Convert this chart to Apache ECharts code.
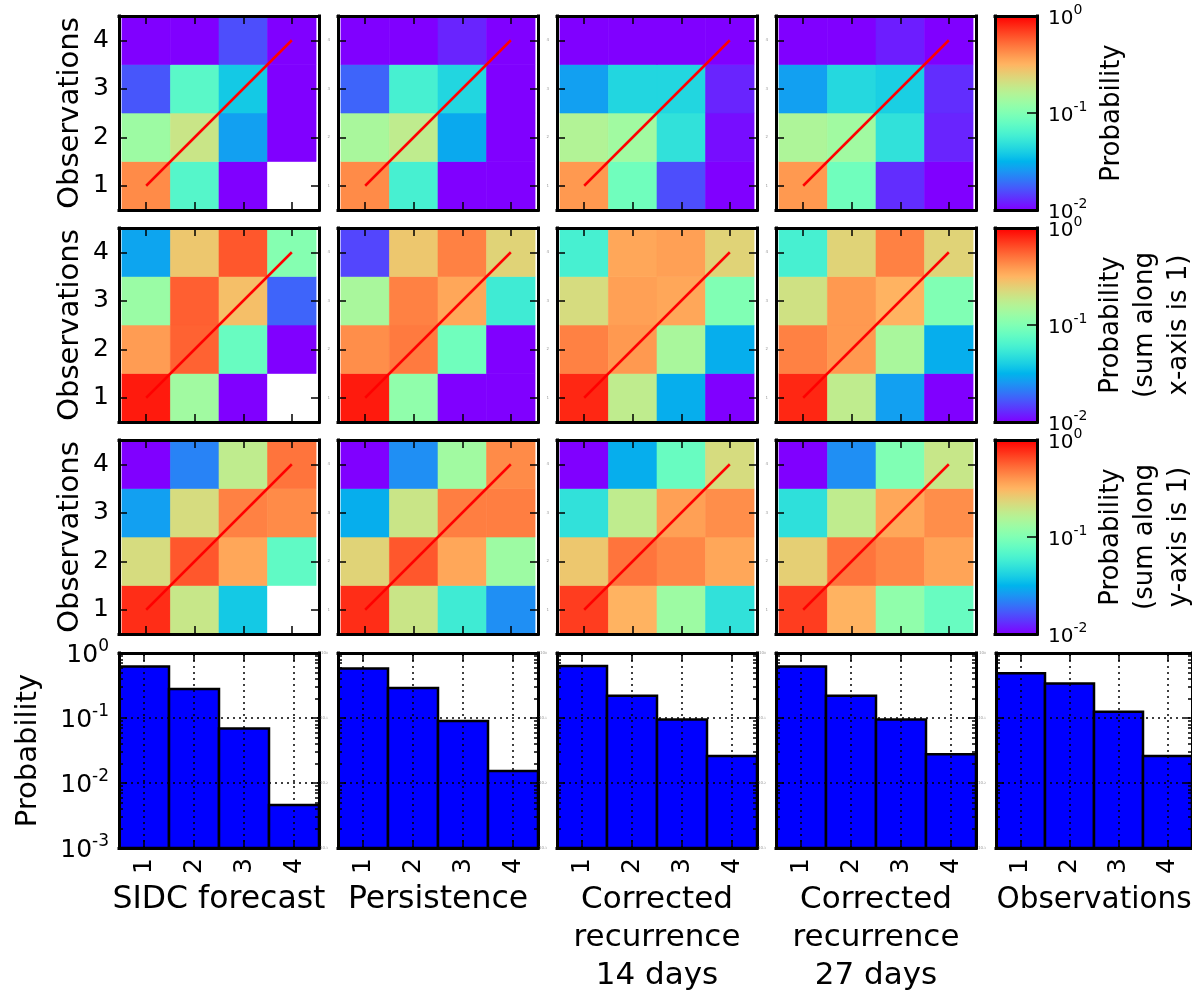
<!DOCTYPE html>
<html><head><meta charset="utf-8">
<script src="https://cdn.jsdelivr.net/npm/echarts@6/dist/echarts.min.js"></script>
<style>html,body{margin:0;padding:0;background:#fff}#c{width:1192px;height:992px}</style>
</head><body><div id="c"></div>
<script>
// ---------------- data ----------------
const forecastCategories = [1, 2, 3, 4];
const observationCategories = [1, 2, 3, 4];
const modelTitles = ['SIDC forecast', 'Persistence', 'Corrected\nrecurrence\n14 days', 'Corrected\nrecurrence\n27 days'];
const observationTitle = 'Observations';
const colorbarTicks = [0.01, 0.1, 1];
const barTicksY = [0.001, 0.01, 0.1, 1];
const colorbarLabels = ['Probability', 'Probability\n(sum along\nx-axis is 1)', 'Probability\n(sum along\ny-axis is 1)'];
const diagonal = [[1, 1], [4, 4]];

// matrices: rows = observation 1..4, columns = forecast 1..4 ; 0 = empty (white)
// row 1: joint probability
const sidcJoint = [[0.43, 0.068, 0.006, 0], [0.13, 0.195, 0.027, 0.006], [0.0166, 0.071, 0.038, 0.006], [0.006, 0.006, 0.0158, 0.006]];
const persJoint = [[0.43, 0.060, 0.005, 0.004], [0.145, 0.178, 0.029, 0.004], [0.018, 0.060, 0.043, 0.004], [0.005, 0.005, 0.0123, 0.004]];
const cr14Joint = [[0.39, 0.087, 0.0158, 0.007], [0.158, 0.135, 0.049, 0.0108], [0.027, 0.043, 0.043, 0.0123], [0.007, 0.008, 0.008, 0.008]];
const cr27Joint = [[0.39, 0.087, 0.013, 0.007], [0.152, 0.135, 0.049, 0.0123], [0.027, 0.044, 0.040, 0.013], [0.007, 0.008, 0.0118, 0.008]];
// row 2: sum along x-axis is 1
const sidcAlongX = [[0.86, 0.135, 0.006, 0], [0.38, 0.56, 0.081, 0.006], [0.127, 0.57, 0.29, 0.018], [0.028, 0.27, 0.60, 0.105]];
const persAlongX = [[0.86, 0.116, 0.006, 0.006], [0.42, 0.48, 0.087, 0.006], [0.145, 0.46, 0.35, 0.056], [0.015, 0.27, 0.46, 0.24]];
const cr14AlongX = [[0.80, 0.178, 0.030, 0.006], [0.46, 0.39, 0.145, 0.030], [0.218, 0.37, 0.35, 0.10], [0.060, 0.35, 0.37, 0.24]];
const cr27AlongX = [[0.80, 0.178, 0.027, 0.006], [0.46, 0.39, 0.145, 0.030], [0.205, 0.39, 0.32, 0.10], [0.060, 0.24, 0.46, 0.24]];
// row 3: sum along y-axis is 1
const sidcAlongY = [[0.77, 0.19, 0.038, 0], [0.218, 0.60, 0.35, 0.075], [0.027, 0.218, 0.46, 0.43], [0.006, 0.022, 0.178, 0.50]];
const persAlongY = [[0.77, 0.195, 0.056, 0.024], [0.24, 0.60, 0.35, 0.13], [0.030, 0.195, 0.47, 0.47], [0.006, 0.024, 0.135, 0.43]];
const cr14AlongY = [[0.70, 0.32, 0.13, 0.049], [0.27, 0.50, 0.44, 0.35], [0.049, 0.178, 0.37, 0.42], [0.006, 0.030, 0.081, 0.218]];
const cr27AlongY = [[0.70, 0.32, 0.116, 0.081], [0.25, 0.50, 0.44, 0.36], [0.048, 0.178, 0.35, 0.42], [0.006, 0.024, 0.10, 0.19]];
// bottom row: marginal distributions
const sidcMarginal = [0.62, 0.28, 0.069, 0.0046];
const persMarginal = [0.58, 0.29, 0.09, 0.0153];
const cr14Marginal = [0.63, 0.22, 0.095, 0.026];
const cr27Marginal = [0.62, 0.22, 0.095, 0.0276];
const obsMarginal = [0.49, 0.34, 0.125, 0.026];

// ---------------- layout ----------------
const FONT = 'DejaVu Sans';
const heatRows = [[sidcJoint, persJoint, cr14Joint, cr27Joint], [sidcAlongX, persAlongX, cr14AlongX, cr27AlongX], [sidcAlongY, persAlongY, cr14AlongY, cr27AlongY]];
const barSets = [sidcMarginal, persMarginal, cr14Marginal, cr27Marginal, obsMarginal];
const barTitles = modelTitles.concat([observationTitle]);
const titleSizes = [31.5, 31.5, 31, 31, 29.5];
const colLefts = [119, 338, 557, 776, 996];
const rowTops = [16, 228, 440];
const barTop = 653, panelW = 200, heatH = 194, barH = 195;
const cbLeft = 995, cbW = 42;
const HEAT_X = [0.44, 4.56], HEAT_Y = [0.5, 4.5], BAR_X = [0.5, 4.5];

const LOGMIN = Math.log10(colorbarTicks[0]), LOGMAX = Math.log10(colorbarTicks[colorbarTicks.length - 1]);
function rainbow(t) {
  t = Math.max(0, Math.min(1, t));
  const r = Math.min(1, Math.abs(2 * t - 0.5)), g = Math.sin(Math.PI * t), b = Math.cos(Math.PI * t / 2);
  return 'rgb(' + Math.round(r * 255) + ',' + Math.round(g * 255) + ',' + Math.round(b * 255) + ')';
}
function probColor(v) { return rainbow((Math.log10(v) - LOGMIN) / (LOGMAX - LOGMIN)); }

const grids = [], xAxis = [], yAxis = [], series = [], graphic = [];
function addGrid(left, top, width, height) { grids.push({ left, top, width, height, show: false, containLabel: false }); return grids.length - 1; }
function frame(gridIndex, position, type, min, max, extra) {
  const a = {
    gridIndex, position, type, min, max, z: 10, silent: true,
    axisLine: { show: true, onZero: false, lineStyle: { color: '#000', width: 3, cap: 'square' } },
    axisTick: { show: false }, axisLabel: { show: false }, splitLine: { show: false },
    minorTick: { show: false }, minorSplitLine: { show: false }
  };
  if (extra) for (const k in extra) a[k] = extra[k];
  return a;
}
function addX(a) { xAxis.push(a); return xAxis.length - 1; }
function addY(a) { yAxis.push(a); return yAxis.length - 1; }
const tickIn = (vals, len) => ({ show: true, inside: true, length: len, customValues: vals, lineStyle: { color: '#000', width: 1.5 } });
const tickInAuto = (len) => ({ show: true, inside: true, length: len, lineStyle: { color: '#000', width: 1.5 } });
const powFmt = v => '{b|10}{s|' + Math.round(Math.log10(v)) + '}';
function powRich(base, sup, lh) {
  return {
    b: { fontSize: base, fontFamily: FONT, color: '#000', verticalAlign: 'bottom', lineHeight: lh },
    s: { fontSize: sup, fontFamily: FONT, color: '#000', verticalAlign: 'top', lineHeight: lh }
  };
}
function tinyRich() {
  return {
    b: { fontSize: 4, fontFamily: FONT, color: '#999', lineHeight: 5 },
    s: { fontSize: 3, fontFamily: FONT, color: '#999', lineHeight: 5 }
  };
}

function heatRender(params, api) {
  const x = api.value(0), y = api.value(1), v = api.value(2);
  const p0 = api.coord([x - 0.5, y + 0.5]), p1 = api.coord([x + 0.5, y - 0.5]);
  const fill = v > 0 ? probColor(v) : '#ffffff';
  return { type: 'rect', shape: { x: p0[0], y: p0[1], width: p1[0] - p0[0], height: p1[1] - p0[1] }, style: { fill, stroke: fill, lineWidth: 0.6 } };
}
function barRender(params, api) {
  const x = api.value(0), v = api.value(1);
  const p0 = api.coord([x - 0.5, v]), p1 = api.coord([x + 0.5, barTicksY[0]]);
  return { type: 'rect', shape: { x: p0[0], y: p0[1], width: p1[0] - p0[0], height: p1[1] - p0[1] }, style: { fill: '#0000ff', stroke: '#000', lineWidth: 2.5 } };
}
function cbarRender(params, api) {
  const p0 = api.coord([api.value(0), api.value(3)]), p1 = api.coord([api.value(2), api.value(1)]);
  const stops = [];
  for (let k = 0; k <= 40; k++) stops.push({ offset: k / 40, color: rainbow(1 - k / 40) });
  return { type: 'rect', shape: { x: p0[0], y: p0[1], width: p1[0] - p0[0], height: p1[1] - p0[1] },
    style: { fill: { type: 'linear', x: 0, y: 0, x2: 0, y2: 1, colorStops: stops } } };
}

// heatmaps
heatRows.forEach((row, r) => {
  row.forEach((M, c) => {
    const g = addGrid(colLefts[c], rowTops[r], panelW, heatH);
    const yLabel = c === 0
      ? { show: true, customValues: observationCategories, fontSize: 25, fontFamily: FONT, color: '#000', margin: 10 }
      : { show: true, customValues: observationCategories, fontSize: 4, fontFamily: FONT, color: '#999', margin: 8 };
    const xb = addX(frame(g, 'bottom', 'value', HEAT_X[0], HEAT_X[1], { axisTick: tickIn(forecastCategories, 8) }));
    addX(frame(g, 'top', 'value', HEAT_X[0], HEAT_X[1], { axisTick: tickIn(forecastCategories, 8) }));
    const yl = addY(frame(g, 'left', 'value', HEAT_Y[0], HEAT_Y[1], { axisTick: tickIn(observationCategories, 8), axisLabel: yLabel }));
    addY(frame(g, 'right', 'value', HEAT_Y[0], HEAT_Y[1], { axisTick: tickIn(observationCategories, 8) }));
    const cells = [];
    observationCategories.forEach((o, i) => forecastCategories.forEach((f, j) => cells.push([f, o, M[i][j]])));
    series.push({ type: 'custom', xAxisIndex: xb, yAxisIndex: yl, data: cells, renderItem: heatRender, clip: true, z: 2, silent: true });
    series.push({ type: 'line', xAxisIndex: xb, yAxisIndex: yl, data: diagonal, symbol: 'none', lineStyle: { color: '#ff0000', width: 2.5 }, z: 3, silent: true });
  });
  // colorbar
  const g = addGrid(cbLeft, rowTops[r], cbW, heatH);
  const xb = addX(frame(g, 'bottom', 'value', 0, 1));
  addX(frame(g, 'top', 'value', 0, 1));
  addY(frame(g, 'left', 'log', colorbarTicks[0], colorbarTicks[2]));
  const yr = addY(frame(g, 'right', 'log', colorbarTicks[0], colorbarTicks[2], {
    axisTick: tickInAuto(10),
    axisLabel: { show: true, formatter: powFmt, rich: powRich(20, 14, 26), margin: 11 }
  }));
  series.push({ type: 'custom', xAxisIndex: xb, yAxisIndex: yr, data: [[0, colorbarTicks[0], 1, colorbarTicks[2]]], renderItem: cbarRender, clip: true, z: 2, silent: true });
  graphic.push({ type: 'text', x: r === 0 ? 1112 : 1145, y: rowTops[r] + heatH / 2, rotation: Math.PI / 2, silent: true,
    style: { text: colorbarLabels[r], fontSize: 26, fontFamily: FONT, fill: '#000', align: 'center', verticalAlign: 'middle', lineHeight: 34 } });
  graphic.push({ type: 'text', x: 70, y: rowTops[r] + heatH / 2, rotation: Math.PI / 2, silent: true,
    style: { text: 'Observations', fontSize: 29, fontFamily: FONT, fill: '#000', align: 'center', verticalAlign: 'middle' } });
});

// bars
const minorLog = [];
for (let d = Math.log10(barTicksY[0]); d < 0; d++) for (let k = 2; k <= 9; k++) minorLog.push(d + Math.log10(k));
barSets.forEach((marg, c) => {
  const g = addGrid(colLefts[c], barTop, panelW + (c === 4 ? 1 : 0), barH);
  const xb = addX(frame(g, 'bottom', 'value', BAR_X[0], BAR_X[1], {
    axisTick: tickIn(forecastCategories, 8),
    axisLabel: { show: true, customValues: forecastCategories, rotate: 90, fontSize: 25, fontFamily: FONT, color: '#000', margin: 10 }
  }));
  addX(frame(g, 'top', 'value', BAR_X[0], BAR_X[1], { axisTick: tickIn(forecastCategories, 8) }));
  const yl = addY(frame(g, 'left', 'log', barTicksY[0], barTicksY[3], {
    axisTick: tickInAuto(8),
    axisLabel: c === 0 ? { show: true, formatter: powFmt, rich: powRich(25, 17, 30), margin: 10 }
      : { show: true, formatter: powFmt, rich: tinyRich(), margin: 10 }
  }));
  addY(frame(g, 'right', 'log', barTicksY[0], barTicksY[3], { axisTick: tickInAuto(8) }));
  const lo = Math.log10(barTicksY[0]), hi = Math.log10(barTicksY[3]);
  addY(frame(g, 'left', 'value', lo, hi, { axisLine: { show: false, onZero: false }, axisTick: tickIn(minorLog, 4) }));
  addY(frame(g, 'right', 'value', lo, hi, { axisLine: { show: false, onZero: false }, axisTick: tickIn(minorLog, 4) }));
  series.push({
    type: 'custom', xAxisIndex: xb, yAxisIndex: yl, data: marg.map((v, i) => [forecastCategories[i], v]), renderItem: barRender, clip: true, z: 2, silent: true,
    markLine: {
      silent: true, symbol: 'none', label: { show: false }, animation: false,
      lineStyle: { color: '#000', width: 1.5, type: [2, 4] },
      data: forecastCategories.map(v => ({ xAxis: v })).concat([{ yAxis: barTicksY[1] }, { yAxis: barTicksY[2] }])
    }
  });
  graphic.push({ type: 'text', x: colLefts[c] + panelW / 2 - (c === 4 ? 2 : 0), y: 881, silent: true,
    style: { text: barTitles[c], fontSize: titleSizes[c], fontFamily: FONT, fill: '#000', align: 'center', verticalAlign: 'top', lineHeight: 38 } });
});
graphic.push({ type: 'text', x: 28, y: barTop + barH / 2, rotation: Math.PI / 2, silent: true,
  style: { text: 'Probability', fontSize: 29, fontFamily: FONT, fill: '#000', align: 'center', verticalAlign: 'middle' } });

const chart = echarts.init(document.getElementById('c'), null, { renderer: 'canvas' });
chart.setOption({
  backgroundColor: '#fff', animation: false,
  textStyle: { fontFamily: FONT },
  grid: grids, xAxis, yAxis, series, graphic
});
</script></body></html>
